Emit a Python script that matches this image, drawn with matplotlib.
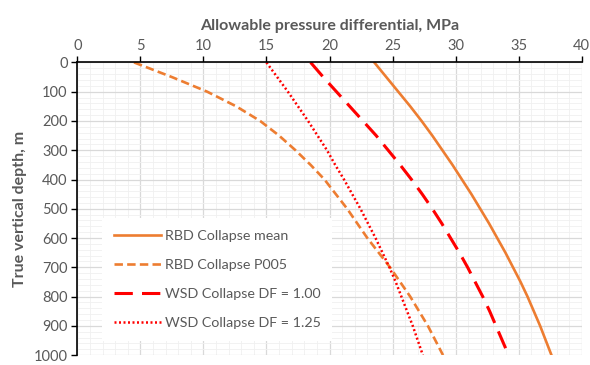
import numpy as np
import matplotlib
matplotlib.use('Agg')
import matplotlib.pyplot as plt
from matplotlib.ticker import MultipleLocator

plt.rcParams['font.family'] = ['Lato', 'DejaVu Sans']

# Depth (m) and allowable pressure differential (MPa)
depth = [0, 50, 100, 150, 200, 250, 300, 350, 400, 450, 500,
         550, 600, 650, 700, 750, 800, 850, 900, 950, 1000]
rbd_mean = [23.55, 24.5, 25.45, 26.4, 27.3, 28.15, 28.95, 29.75, 30.5, 31.25, 31.95,
            32.65, 33.3, 33.95, 34.55, 35.15, 35.7, 36.2, 36.7, 37.15, 37.6]
rbd_p005 = [4.5, 7.5, 10.3, 12.6, 14.5, 16.0, 17.3, 18.5, 19.6, 20.5, 21.4,
            22.2, 23.0, 23.9, 24.8, 25.6, 26.4, 27.1, 27.8, 28.4, 29.0]
wsd_df100 = [18.5, 19.5, 20.55, 21.6, 22.65, 23.7, 24.65, 25.6, 26.5, 27.35, 28.15,
             28.9, 29.6, 30.3, 30.95, 31.55, 32.15, 32.7, 33.2, 33.7, 34.2]
wsd_df125 = [15.0, 15.85, 16.7, 17.5, 18.3, 19.05, 19.8, 20.45, 21.15, 21.8, 22.45,
             23.05, 23.65, 24.2, 24.75, 25.25, 25.7, 26.15, 26.6, 27.0, 27.4]

labels = ['RBD Collapse mean', 'RBD Collapse P005',
          'WSD Collapse DF = 1.00', 'WSD Collapse DF = 1.25']

orange = '#ED7D31'
red = '#FF0000'
grey = '#595959'

fig = plt.figure(figsize=(5.9, 3.65), dpi=100)
ax = fig.add_axes([0.131, 0.027, 0.855, 0.802])

ax.plot(rbd_mean, depth, color=orange, lw=1.9, label=labels[0])
ax.plot(rbd_p005, depth, color=orange, lw=1.9, linestyle=(0, (3.2, 1.6)), label=labels[1])
ax.plot(wsd_df100, depth, color=red, lw=2.2, linestyle=(0, (6.0, 3.0)), label=labels[2])
ax.plot(wsd_df125, depth, color=red, lw=1.8, linestyle=(0, (0.8, 1.0)), label=labels[3])

ax.set_xlim(0, 40)
ax.set_ylim(1000, 0)
ax.xaxis.set_major_locator(MultipleLocator(5))
ax.xaxis.set_minor_locator(MultipleLocator(1))
ax.yaxis.set_major_locator(MultipleLocator(100))
ax.yaxis.set_minor_locator(MultipleLocator(20))

ax.grid(which='major', color='#d9d9d9', lw=0.9)
ax.grid(which='minor', color='#f0f0f0', lw=0.6)
ax.set_axisbelow(True)

ax.xaxis.tick_top()
ax.xaxis.set_label_position('top')
ax.tick_params(axis='both', which='major', direction='out', length=4,
               width=1, color='black', labelcolor=grey, labelsize=10.5, pad=3)
ax.tick_params(axis='both', which='minor', length=0)

for s in ['right', 'bottom']:
    ax.spines[s].set_visible(False)
for s in ['top', 'left']:
    ax.spines[s].set_color('black')
    ax.spines[s].set_linewidth(1.2)

ax.set_xlabel('Allowable pressure differential, MPa', fontsize=11.5,
              fontweight='bold', color=grey, labelpad=6)
ax.set_ylabel('True vertical depth, m', fontsize=11.5,
              fontweight='bold', color=grey, labelpad=5)

leg = ax.legend(loc='lower left', bbox_to_anchor=(0.035, 0.025), frameon=True,
                fancybox=False, edgecolor='none', facecolor='white', framealpha=1,
                handlelength=3.3, labelspacing=1.2, borderpad=0.8,
                handletextpad=0.3, fontsize=10.3)
for t in leg.get_texts():
    t.set_color(grey)

fig.savefig('out.png', dpi=100)
